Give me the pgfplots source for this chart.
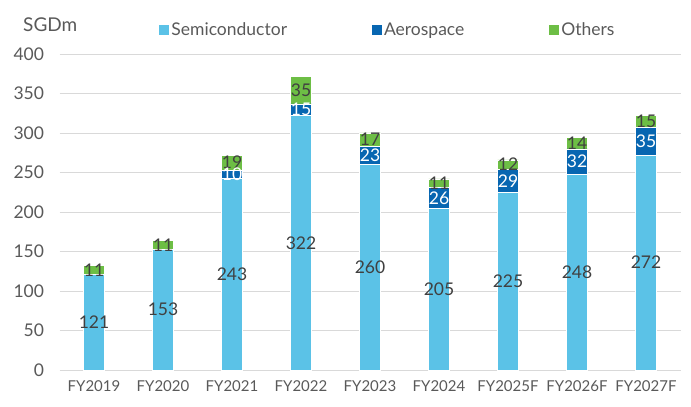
\documentclass[border=0pt]{standalone}
\usepackage{pgfplots}
\pgfplotsset{compat=1.18}
\usepackage{fontspec}
\setmainfont{Lato}
\definecolor{semi}{HTML}{5BC2E7}
\definecolor{aero}{HTML}{0766B1}
\definecolor{oth}{HTML}{6DBE45}
\definecolor{txt}{HTML}{595959}
\definecolor{lbl}{HTML}{404040}
\definecolor{grd}{HTML}{D9D9D9}
\pgfplotsset{
  mylbl/.style={every node near coord/.style={anchor=center,
     font=\fontsize{17.5}{20}\selectfont, inner sep=0pt, text=#1}},
}
\begin{document}
\begin{tikzpicture}
\begin{axis}[
  width=621pt, height=316pt, scale only axis, clip=false,
  ybar stacked, bar width=21pt,
  xmin=-0.5, xmax=8.5, ymin=0, ymax=400,
  xtick={0,1,2,3,4,5,6,7,8},
  xticklabels={FY2019,FY2020,FY2021,FY2022,FY2023,FY2024,FY2025F,FY2026F,FY2027F},
  ytick={0,50,100,150,200,250,300,350,400},
  ymajorgrids, major grid style={grd, line width=0.9pt},
  axis line style={draw=none}, tick style={draw=none},
  /pgf/number format/assume math mode=true,
  xticklabel style={text=txt, font=\fontsize{15}{18}\selectfont, yshift=-7pt},
  yticklabel style={text=txt, font=\fontsize{17.5}{20}\selectfont, anchor=east, xshift=-12pt},
  legend style={at={(0.529,1)}, anchor=center, yshift=24pt, draw=none, fill=none,
    legend columns=-1, font=\fontsize{17.5}{20}\selectfont, text=txt,
    /tikz/every even column/.append style={column sep=83pt}},
  legend image code/.code={\path[#1,draw=none] (0pt,-5pt) rectangle (10pt,5pt);},
  visualization depends on=rawy\as\rawy,
  nodes near coords={\pgfmathtruncatemacro\v{\rawy}\ifnum\v=0\relax\else\v\fi},
]
\addplot[fill=semi, draw=white, line width=0.5pt, mylbl=lbl] coordinates {
(0,121) (1,153) (2,243) (3,322) (4,260) (5,205) (6,225) (7,248) (8,272)};
\addplot[fill=aero, draw=white, line width=0.5pt, mylbl=white] coordinates {
(0,0) (1,0) (2,10) (3,15) (4,23) (5,26) (6,29) (7,32) (8,35)};
\addplot[fill=oth, draw=white, line width=0.5pt, mylbl=lbl] coordinates {
(0,11) (1,11) (2,19) (3,35) (4,17) (5,11) (6,12) (7,14) (8,15)};
\legend{Semiconductor,Aerospace,Others}
\node[anchor=west, text=txt, font=\fontsize{19}{22}\selectfont, inner sep=0pt] at (rel axis cs:0,1) [xshift=-36.5pt, yshift=29.5pt] {SGDm};
\path (rel axis cs:0,0) ++(-59.5pt,-36pt) coordinate (bl);
\path (rel axis cs:1,1) ++(10.5pt,54pt) coordinate (tr);
\end{axis}
\pgfresetboundingbox
\path[use as bounding box] (bl) rectangle (tr);
\end{tikzpicture}
\end{document}
